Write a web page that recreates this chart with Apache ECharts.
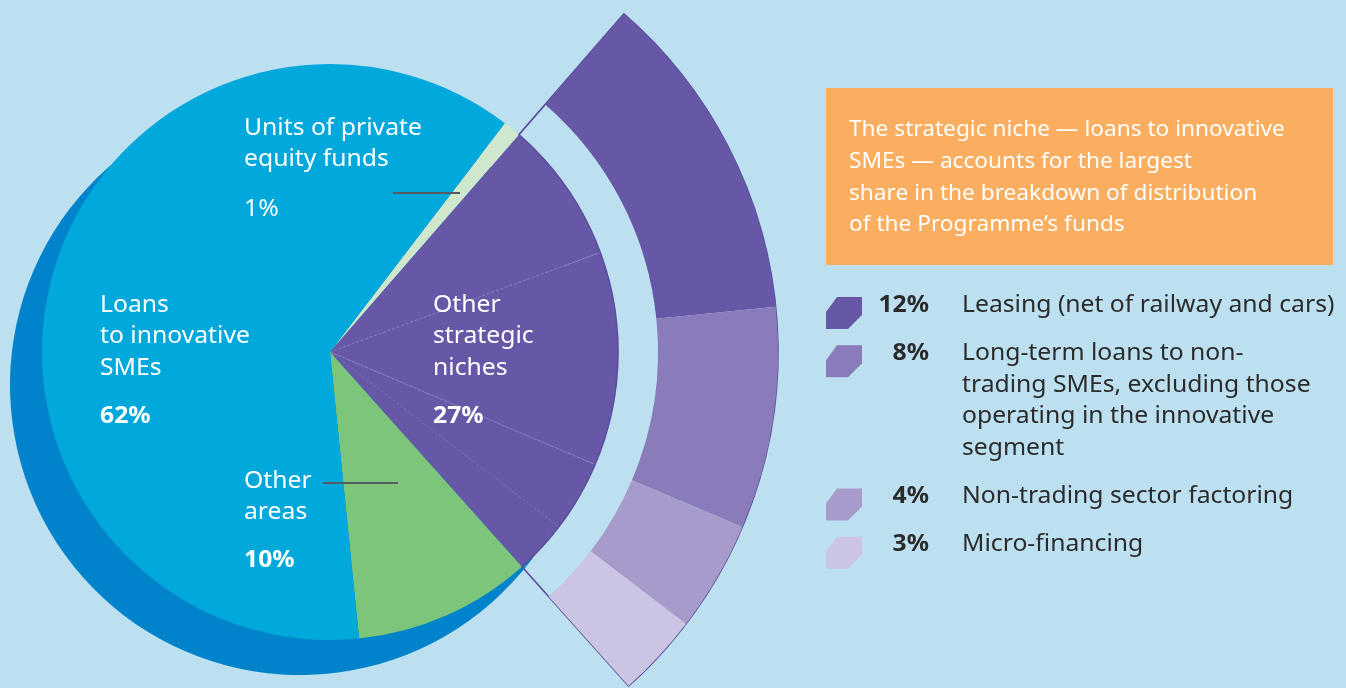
<!DOCTYPE html>
<html>
<head>
<meta charset="utf-8">
<script src="https://cdn.jsdelivr.net/npm/echarts@6/dist/echarts.min.js"></script>
<style>
  html, body { margin: 0; padding: 0; background: #bde0f1; }
  #chart { width: 1346px; height: 688px; }
</style>
</head>
<body>
<div id="chart"></div>
<script>
// main distribution (clockwise from the top of the thin sliver)
const mainNames = ['Units of private\nequity funds', 'Other\nstrategic\nniches', 'Other\nareas', 'Loans\nto innovative\nSMEs'];
const mainValues = [1, 27, 10, 62];
const mainColors = ['#cfe8cd', '#6658a6', '#7cc57a', '#00a8dc'];

// thin dashed split inside the "other strategic niches" slice, as drawn
const innerSplit = [8, 12, 4, 3];

// outer ring / legend
const nicheNames = [
    'Leasing (net of railway and cars)',
    'Long-term loans to non-\ntrading SMEs, excluding those\noperating in the innovative\nsegment',
    'Non-trading sector factoring',
    'Micro-financing'
];
const nicheValues = [12, 8, 4, 3];
const nicheColors = ['#6658a6', '#8a7cba', '#a79bcc', '#cbc5e3'];

const noteText = 'The strategic niche \u2014 loans to innovative\nSMEs \u2014 accounts for the largest\nshare in the breakdown of distribution\nof the Programme\u2019s funds';

const FONT = '"Noto Sans", sans-serif';
const STRETCH = 1.03;
const NONE = 'rgba(0,0,0,0)';
const CENTER = [330, 352];
const START = 52.6;

const chart = echarts.init(document.getElementById('chart'));

const base = {
    type: 'pie',
    silent: true,
    animation: false,
    clockwise: true,
    startAngle: START,
    center: CENTER,
    label: {show: false},
    labelLine: {show: false},
    emphasis: {disabled: true}
};

// main pie data: sliver, purple sub-slices, green, blue
const mainData = [{value: mainValues[0], itemStyle: {color: mainColors[0]}}];
innerSplit.forEach((v, i) => {
    const split = i === 1 || i === 2;
    mainData.push({
        value: v,
        itemStyle: {
            color: mainColors[1],
            borderColor: split ? '#9286c8' : NONE,
            borderWidth: split ? 0.8 : 0,
            borderType: 'dashed'
        }
    });
});
mainData.push({value: mainValues[2], itemStyle: {color: mainColors[2]}});
mainData.push({value: mainValues[3], itemStyle: {color: mainColors[3]}});

const restAfter = mainValues[2] + mainValues[3];

const ringData = [{value: mainValues[0], itemStyle: {color: NONE}}]
    .concat(nicheValues.map((v, i) => ({value: v, itemStyle: {color: nicheColors[i]}})))
    .concat([{value: restAfter, itemStyle: {color: NONE}}]);

const edgeData = [
    {value: mainValues[0], itemStyle: {color: NONE}},
    {value: mainValues[1], itemStyle: {color: NONE, borderColor: '#5d4d9e', borderWidth: 1.6}},
    {value: restAfter, itemStyle: {color: NONE}}
];

// text pieces
const white = {fill: '#ffffff', font: '24px ' + FONT, lineHeight: 31.7};
const graphic = [];
function txt(x, y, text, extra) {
    graphic.push({type: 'text', x: x, y: y, z: 100, silent: true, scaleX: STRETCH,
        style: Object.assign({text: text, verticalAlign: 'top'}, white, extra || {})});
}
const boldW = {font: 'bold 24px ' + FONT};

txt(244, 112, mainNames[0]);
txt(244, 193, mainValues[0] + '%');
txt(100, 289, mainNames[3]);
txt(100, 400, mainValues[3] + '%', boldW);
txt(433, 289, mainNames[1]);
txt(433, 400, mainValues[1] + '%', boldW);
txt(244, 465, mainNames[2]);
txt(244, 544, mainValues[2] + '%', boldW);

graphic.push({type: 'line', z: 100, silent: true, shape: {x1: 393, y1: 193, x2: 460, y2: 193},
    style: {stroke: '#555b60', lineWidth: 2}});
graphic.push({type: 'line', z: 100, silent: true, shape: {x1: 323, y1: 483, x2: 398, y2: 483},
    style: {stroke: '#555b60', lineWidth: 2}});

// orange note
graphic.push({type: 'rect', silent: true, shape: {x: 826, y: 88, width: 507, height: 177},
    style: {fill: '#fbae5f'}});
txt(849, 114, noteText, {font: '22px ' + FONT, lineHeight: 31.7});

// legend
const dark = '#2b2b2b';
let rowY = 289;
nicheNames.forEach((name, i) => {
    graphic.push({type: 'polygon', silent: true, x: 826, y: rowY + 8,
        shape: {points: [[11, 0], [36, 0], [36, 18], [22, 32], [0, 32], [0, 15]]},
        style: {fill: nicheColors[i]}});
    txt(929, rowY, nicheValues[i] + '%', {fill: dark, font: 'bold 24px ' + FONT, align: 'right'});
    txt(962, rowY, name, {fill: dark});
    rowY += name.split('\n').length * 31.7 + 16.5;
});

chart.setOption({
    backgroundColor: '#bde0f1',
    graphic: graphic,
    series: [
        Object.assign({}, base, {
            name: 'shadow', center: [300, 385], radius: 290,
            data: [{value: 1, itemStyle: {color: '#0083ca'}}]
        }),
        Object.assign({}, base, {name: 'main', radius: 288, data: mainData}),
        Object.assign({}, base, {name: 'edges', radius: [288, 448], data: edgeData}),
        Object.assign({}, base, {name: 'niches', radius: [328, 448], data: ringData})
    ]
});
</script>
</body>
</html>
